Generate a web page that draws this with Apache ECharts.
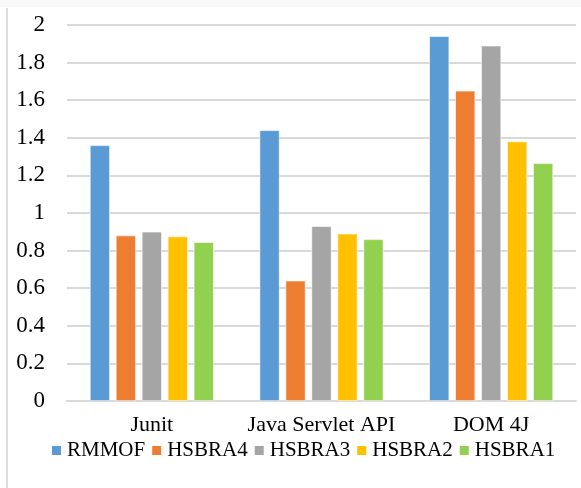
<!DOCTYPE html>
<html>
<head>
<meta charset="utf-8">
<script src="https://cdn.jsdelivr.net/npm/echarts@6/dist/echarts.min.js"></script>
<style>html,body{margin:0;padding:0;background:#fff;}#c{width:581px;height:488px;}</style>
</head>
<body>
<div id="c"></div>
<script>
var categories = ['Junit', 'Java Servlet API', 'DOM 4J'];
var seriesNames = ['RMMOF', 'HSBRA4', 'HSBRA3', 'HSBRA2', 'HSBRA1'];
var RMMOF  = [1.36, 1.44, 1.94];
var HSBRA4 = [0.88, 0.64, 1.65];
var HSBRA3 = [0.90, 0.93, 1.89];
var HSBRA2 = [0.875, 0.89, 1.38];
var HSBRA1 = [0.845, 0.86, 1.265];
var yTicks = [0, 0.2, 0.4, 0.6, 0.8, 1, 1.2, 1.4, 1.6, 1.8, 2];
var colors = ['#5b9bd5', '#ed7d31', '#a5a5a5', '#ffc000', '#92d050'];
var values = [RMMOF, HSBRA4, HSBRA3, HSBRA2, HSBRA1];

var chart = echarts.init(document.getElementById('c'));
var font = 'Liberation Serif';
chart.setOption({
  animation: false,
  backgroundColor: '#fff',
  graphic: [
    {type: 'rect', left: 0, top: 0, shape: {width: 581, height: 7}, style: {fill: '#f9f9f9'}, silent: true},
    {type: 'rect', left: 6, top: 8, shape: {width: 2, height: 480}, style: {fill: '#dddddd'}, silent: true}
  ],
  grid: {left: 67, right: 5, top: 25, bottom: 87},
  legend: {
    data: seriesNames,
    bottom: 22,
    left: 45,
    itemWidth: 11,
    itemHeight: 11,
    itemGap: 5,
    icon: 'rect',
    textStyle: {fontFamily: font, fontSize: 21, color: '#000'}
  },
  xAxis: {
    type: 'category',
    data: categories,
    axisLine: {lineStyle: {color: '#d9d9d9', width: 2}},
    axisTick: {show: false},
    axisLabel: {fontFamily: font, fontSize: 22, color: '#000', margin: 13, interval: 0}
  },
  yAxis: {
    type: 'value',
    min: 0,
    max: 2,
    interval: 0.2,
    axisLine: {show: false},
    axisTick: {show: false},
    splitLine: {lineStyle: {color: '#d9d9d9', width: 2}},
    axisLabel: {
      fontFamily: font, fontSize: 23, color: '#000', margin: 22,
      formatter: function (v) {
        var t = yTicks.find(function (k) { return Math.abs(k - v) < 1e-6; });
        return t === undefined ? '' : String(t);
      }
    }
  },
  series: seriesNames.map(function (n, i) {
    return {
      name: n,
      type: 'bar',
      data: values[i],
      barGap: '30%',
      barCategoryGap: '27%',
      itemStyle: {color: colors[i], borderColor: '#ffffff', borderWidth: 0.6}
    };
  })
});
</script>
</body>
</html>
